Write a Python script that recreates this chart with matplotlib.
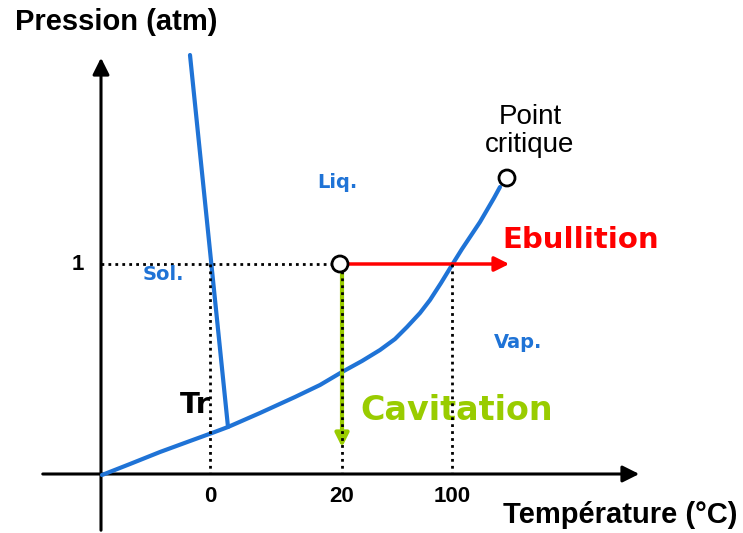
import matplotlib.pyplot as plt
from matplotlib.patches import Circle

plt.rcParams['font.family'] = ['Liberation Sans', 'DejaVu Sans']

# schematic in pixel coordinates (y goes down)
vap_x = [102, 130, 160, 190, 212, 228, 260, 295, 320, 342, 362, 380, 395, 407, 420, 430, 441, 452, 462, 470, 480, 487, 494, 500]
vap_y = [475, 464, 452, 441, 433, 427, 413, 397, 385, 372, 361, 350, 339, 327, 313, 300, 283, 265, 249, 237, 222, 210, 198, 187]
fus_x = [190, 228]
fus_y = [55, 427]
tick_x = [210, 342, 452]
tick_labels = ['0', '20', '100']
p1_y = 264
crit = (507, 178)
state = (340, 264)

blue = '#1f73d6'
heavy = ['DejaVu Sans']
fig = plt.figure(figsize=(7.43, 5.33), dpi=100)
ax = fig.add_axes([0, 0, 1, 1])
ax.set_xlim(0, 743)
ax.set_ylim(533, 0)
ax.axis('off')

# axes arrows
ax.annotate('', xy=(101, 55), xytext=(101, 533),
            arrowprops=dict(arrowstyle='-|>', color='black', lw=2.2, mutation_scale=25))
ax.annotate('', xy=(642, 474), xytext=(40, 474),
            arrowprops=dict(arrowstyle='-|>', color='black', lw=2.2, mutation_scale=25))

# dotted guides
ax.plot([101, state[0]], [p1_y, p1_y], ls=(0, (1, 1.5)), color='black', lw=2)
for x in tick_x:
    ax.plot([x, x], [p1_y, 474], ls=(0, (1, 1.5)), color='black', lw=2, zorder=4)

# phase boundaries
ax.plot(vap_x, vap_y, color=blue, lw=3, solid_capstyle='round', solid_joinstyle='round', zorder=3)
ax.plot(fus_x, fus_y, color=blue, lw=3, solid_capstyle='round', zorder=3)

# ebullition & cavitation arrows
ax.annotate('', xy=(512, p1_y), xytext=(346, p1_y),
            arrowprops=dict(arrowstyle='-|>', color='#ff0000', lw=2.5, mutation_scale=22), zorder=3)
ax.annotate('', xy=(342, 450), xytext=(342, 270),
            arrowprops=dict(arrowstyle='-|>', color='#99cc00', lw=3, mutation_scale=20), zorder=3)

ax.add_patch(Circle(state, 8, fc='white', ec='black', lw=2, zorder=5))
ax.add_patch(Circle(crit, 8, fc='white', ec='black', lw=2, zorder=5))

# texts
ax.text(116, 22, 'Pression (atm)', fontsize=21, fontweight='bold', va='center', ha='center')
ax.text(78, p1_y, '1', fontsize=16, fontweight='bold', va='center', ha='center')
for x, lab in zip(tick_x, tick_labels):
    ax.text(x, 497, lab, fontsize=16, fontweight='bold', va='center', ha='center')
ax.text(620, 515, 'Température (°C)', fontsize=21, fontweight='bold', va='center', ha='center')
ax.text(163, 275, 'Sol.', fontsize=14, fontweight='bold', family=heavy, color=blue, va='center', ha='center')
ax.text(337, 182, 'Liq.', fontsize=14, fontweight='bold', family=heavy, color=blue, va='center', ha='center')
ax.text(518, 342, 'Vap.', fontsize=14, fontweight='bold', family=heavy, color=blue, va='center', ha='center')
ax.text(195, 405, 'Tr', fontsize=21, fontweight='bold', family=heavy, color='black', va='center', ha='center')
ax.text(530, 131, 'Point\ncritique', fontsize=20, color='black', va='center', ha='center',
        linespacing=1.05)
ax.text(581, 240, 'Ebullition', fontsize=21, fontweight='bold', family=heavy, color='#ff0000', va='center', ha='center')
ax.text(457, 410, 'Cavitation', fontsize=24, fontweight='bold', family=heavy, color='#99cc00', va='center', ha='center')

fig.savefig('out.png', dpi=100)
